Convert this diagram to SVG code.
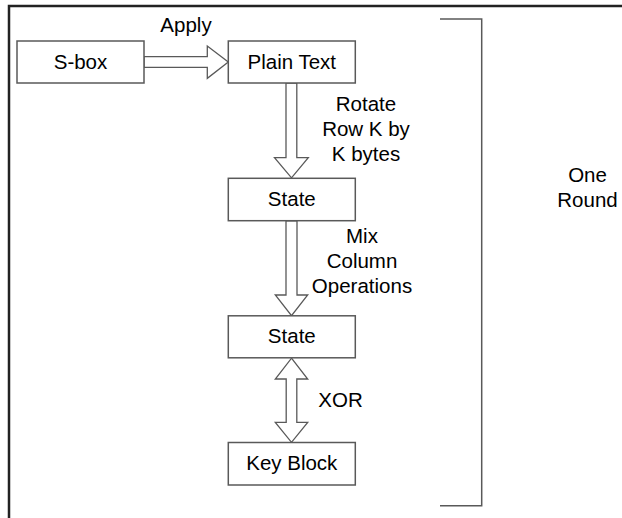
<svg xmlns="http://www.w3.org/2000/svg" width="622" height="518" viewBox="0 0 622 518">
  <style>
    .frame { fill: none; stroke: #222; stroke-width: 2.5; }
    .box { fill: #fff; stroke: #595959; stroke-width: 1.5; }
    .arrow { fill: #fff; stroke: #595959; stroke-width: 1.3; stroke-linejoin: miter; }
    .bracket { fill: none; stroke: #595959; stroke-width: 1.5; }
    text { font-family: "Liberation Sans", Arial, sans-serif; font-size: 20.5px; fill: #000; text-anchor: middle; }
  </style>
  <rect width="622" height="518" fill="#fff"/>
  <!-- outer frame, open past the right and bottom edges -->
  <rect class="frame" x="9" y="6" width="640" height="540"/>

  <!-- connectors: hollow block arrows -->
  <g id="connectors">
    <!-- S-box to Plain Text -->
    <path class="arrow" d="M144,56.7 H207.3 V46 L228.3,62 L207.3,78.3 V67.3 H144 Z"/>
    <!-- Plain Text to State -->
    <path class="arrow" d="M286,83 V157.7 H274.5 L291.5,177.8 L308.3,157.7 H296.8 V83 Z"/>
    <!-- State to State -->
    <path class="arrow" d="M286,220.8 V295 H275.3 L291.5,315.7 L307.7,295 H297 V220.8 Z"/>
    <!-- State to Key Block, both ways -->
    <path class="arrow" d="M291.5,358.2 L307.7,379 H296.8 V422.3 H307.7 L291.5,442.3 L275.3,422.3 H286.2 V379 H275.3 Z"/>
  </g>

  <!-- connector labels -->
  <g id="labels">
    <text x="186" y="32">Apply</text>
    <text x="366" y="111">Rotate</text>
    <text x="366" y="136">Row K by</text>
    <text x="366" y="161">K bytes</text>
    <text x="362" y="243">Mix</text>
    <text x="362" y="268">Column</text>
    <text x="362" y="293">Operations</text>
    <text x="340.5" y="406.5">XOR</text>
  </g>

  <g id="sbox">
    <rect class="box" x="17" y="41" width="127" height="42"/>
    <text x="80.5" y="68.5">S-box</text>
  </g>
  <g id="plain-text">
    <rect class="box" x="228.3" y="41" width="127" height="42"/>
    <text x="291.8" y="68.5">Plain Text</text>
  </g>
  <g id="state-1">
    <rect class="box" x="228.3" y="178.3" width="127" height="42.4"/>
    <text x="291.8" y="205.5">State</text>
  </g>
  <g id="state-2">
    <rect class="box" x="228.3" y="315.8" width="127" height="42"/>
    <text x="291.8" y="343">State</text>
  </g>
  <g id="key-block">
    <rect class="box" x="228.3" y="442.5" width="127" height="42.5"/>
    <text x="291.8" y="469.5">Key Block</text>
  </g>

  <!-- bracket marking one round -->
  <g id="round">
    <path class="bracket" d="M440,19 H481.7 V505.7 H440"/>
    <text x="587.5" y="182.3">One</text>
    <text x="587.5" y="207.3">Round</text>
  </g>
</svg>
